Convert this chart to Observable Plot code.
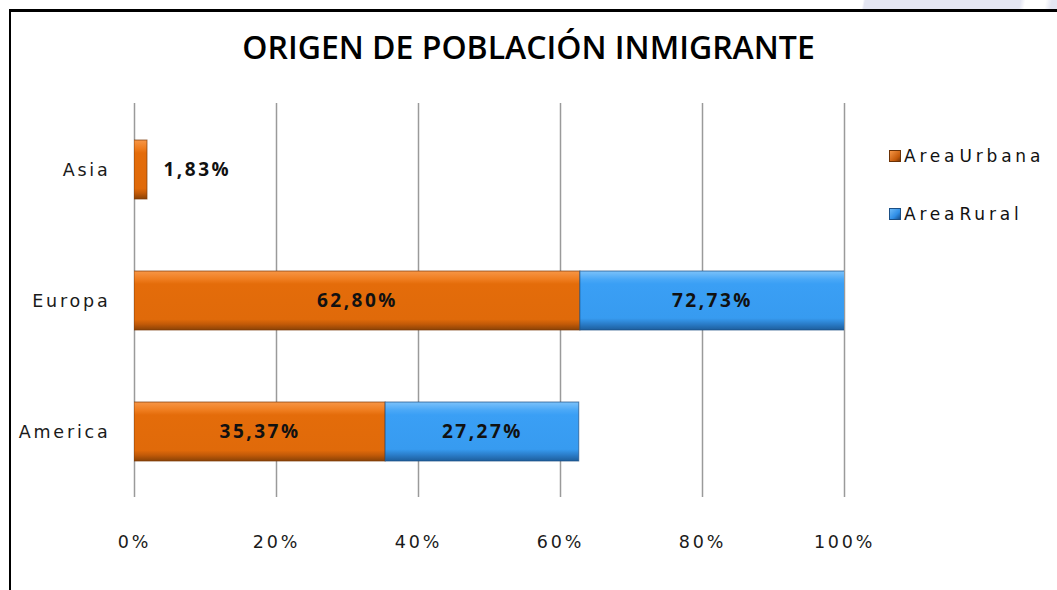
<!DOCTYPE html>
<html>
<head>
<meta charset="utf-8">
<script src="https://cdn.jsdelivr.net/npm/d3@7"></script>
<script src="https://cdn.jsdelivr.net/npm/@observablehq/plot@0.6"></script>
<style>
  html, body { margin: 0; padding: 0; background: #fff; }
  #page { position: relative; width: 1057px; height: 590px; overflow: hidden; background: #fff; }
  #band { position: absolute; left: 0; top: 0; width: 1057px; height: 10px;
    background: linear-gradient(100deg, #fff 0px, #fff 850px, #e4e6f2 852px, #e4e6f2 1005px, #fff 1010px, #fff 1030px, #e4e6f2 1036px); }
  #frame { position: absolute; left: 9px; top: 9px; width: 1100px; height: 700px;
    border-top: 3px solid #000; border-left: 2px solid #000; box-sizing: border-box; }
  #title { position: absolute; left: 0; top: 25px; width: 1057px; text-align: center; line-height: 44px;
    font-family: "Open Sans", sans-serif; font-weight: 600; font-size: 32px; color: #000; letter-spacing: 0px; }
  #chart { position: absolute; left: 0; top: 90px; }
  .leg { position: absolute; left: 889px; font-family: "DejaVu Sans", sans-serif; font-size: 17px;
    letter-spacing: 3.8px; word-spacing: -8px; color: #111; display: flex; align-items: center; }
  .sw { width: 12px; height: 12px; margin-right: 3px; box-sizing: border-box; }
</style>
</head>
<body>
<div id="page">
  <div id="band"></div>
  <div id="frame"></div>
  <div id="title">ORIGEN DE POBLACIÓN INMIGRANTE</div>
  <div id="chart"></div>
  <div class="leg" style="top:146px"><div class="sw" style="background:linear-gradient(135deg,#f79646,#c55a0a 70%,#7a3a08);border:1px solid #6b3206"></div>Area Urbana</div>
  <div class="leg" style="top:204px"><div class="sw" style="background:linear-gradient(135deg,#6cbaf8,#2f8ee6 60%,#17508f);border:1px solid #1b4f85"></div>Area Rural</div>
</div>
<script>
const categories = ["Asia", "Europa", "America"];
const series = ["Area Urbana", "Area Rural"];
const urbana = [1.83, 62.80, 35.37];
const rural = [0, 72.73, 27.27];
const xTicks = [0, 20, 40, 60, 80, 100];

const rows = [];
categories.forEach((c, i) => {
  const vals = [urbana[i], rural[i]];
  let start = 0;
  series.forEach((s, j) => {
    rows.push({category: c, series: s, value: vals[j], start, end: start + vals[j]});
    start += vals[j];
  });
});
const fmt = v => v.toFixed(2).replace(".", ",") + "%";
const inside = rows.filter(d => d.value > 0 && d.value >= 5);
const outside = rows.filter(d => d.value > 0 && d.value < 5);

const plot = Plot.plot({
  width: 1057,
  height: 500,
  marginLeft: 134,
  marginRight: 213,
  marginTop: 13,
  marginBottom: 93,
  x: {domain: [0, 100], ticks: xTicks, tickFormat: d => d + "%", label: null, tickSize: 0, tickPadding: 38},
  y: {domain: categories, label: null, tickSize: 0, tickPadding: 24, paddingInner: 0.55, paddingOuter: 0.275},
  color: {domain: series, range: ["url(#gUrb)", "url(#gRur)"]},
  style: {fontFamily: "DejaVu Sans, sans-serif", fontSize: "17.5px", color: "#1a1a1a"},
  marks: [
    Plot.ruleX(xTicks, {x: d => d, stroke: "#9a9a9a", strokeWidth: 1.5}),
    Plot.ruleY([0], {y: () => null, frameAnchor: "bottom", stroke: "#9a9a9a", strokeWidth: 1.5}),
    Plot.barX(rows.filter(d => d.value > 0), Plot.stackX({
      y: "category", x: "value", fill: "series", order: series, clip: true,
      stroke: d => d.series === series[0] ? "#7a3a08" : "#1b4f85", strokeWidth: 1, strokeOpacity: 0.7
    })),
    Plot.text(inside, {
      y: "category", x: d => (d.start + Math.min(d.end, 100)) / 2, text: d => fmt(d.value),
      fontWeight: "bold", fontSize: 19, fill: "#111", fontFamily: "Open Sans, sans-serif"
    }),
    Plot.text(outside, {
      y: "category", x: "end", text: d => fmt(d.value), textAnchor: "start", dx: 16,
      fontWeight: "bold", fontSize: 19, fill: "#111", fontFamily: "Open Sans, sans-serif"
    })
  ]
});

const svg = d3.select(plot);
const defs = svg.insert("defs", ":first-child");
function grad(id, stops) {
  const g = defs.append("linearGradient").attr("id", id).attr("x1", 0).attr("y1", 0).attr("x2", 0).attr("y2", 1);
  stops.forEach(([o, c]) => g.append("stop").attr("offset", o).attr("stop-color", c));
}
grad("gUrb", [[0, "#f79646"], [0.14, "#ef7d1f"], [0.22, "#e46c0a"], [0.82, "#e06a0a"], [0.9, "#c25a08"], [1, "#8a4206"]]);
grad("gRur", [[0, "#7cc2fa"], [0.14, "#4aa8f7"], [0.22, "#3a9ff5"], [0.8, "#379bf0"], [0.9, "#2a7cc8"], [1, "#1d5e9c"]]);
svg.selectAll("[aria-label='x-axis tick label'] text, [aria-label='y-axis tick label'] text").style("letter-spacing", "2.8px");
svg.selectAll("[aria-label='text'] text").style("letter-spacing", "2.5px");
document.getElementById("chart").appendChild(plot);
</script>
</body>
</html>
